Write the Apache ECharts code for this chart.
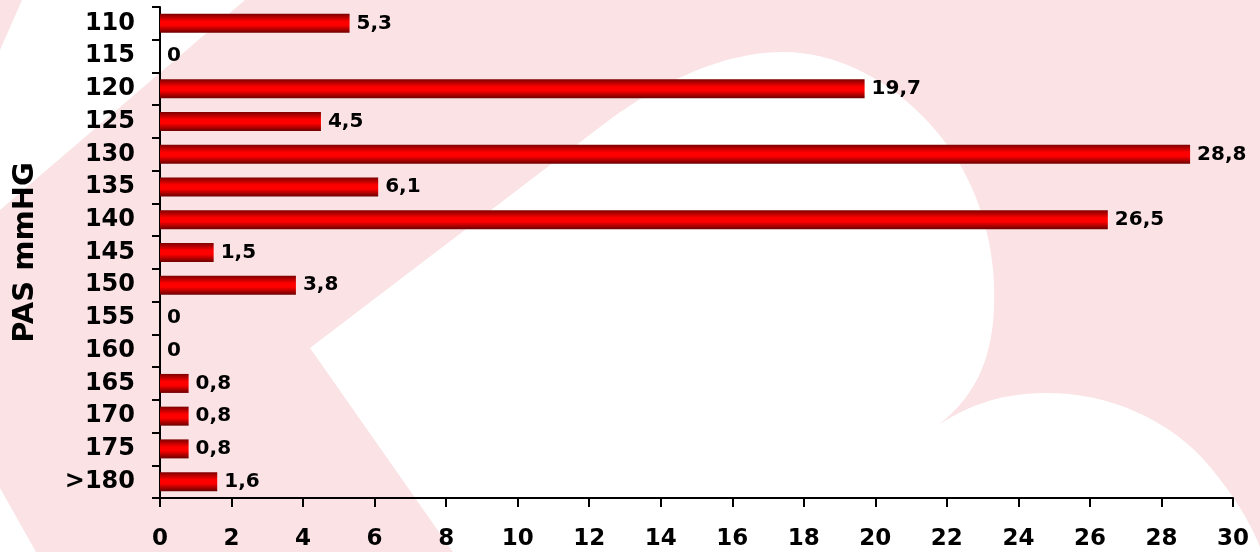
<!DOCTYPE html>
<html>
<head>
<meta charset="utf-8">
<script src="https://cdn.jsdelivr.net/npm/echarts@6/dist/echarts.min.js"></script>
<style>
  html, body { margin: 0; padding: 0; background: #fae2e5; }
  #chart { width: 1260px; height: 552px; }
</style>
</head>
<body>
<div id="chart"></div>
<script>
// Systolic pressure classes (mmHg) and share of patients (%)
const categories = ['110', '115', '120', '125', '130', '135', '140', '145', '150', '155', '160', '165', '170', '175', '>180'];
const values = [5.3, 0, 19.7, 4.5, 28.8, 6.1, 26.5, 1.5, 3.8, 0, 0, 0.8, 0.8, 0.8, 1.6];
const axisTitle = 'PAS mmHG';
const xMin = 0, xMax = 30, xStep = 2;

const chart = echarts.init(document.getElementById('chart'));

const fontMain = '"DejaVu Sans", Verdana, sans-serif';

const barFill = {
  type: 'linear', x: 0, y: 0, x2: 0, y2: 1,
  colorStops: [
    { offset: 0, color: '#7d0000' },
    { offset: 0.4, color: '#ff0000' },
    { offset: 0.6, color: '#ff0000' },
    { offset: 1, color: '#6a0000' }
  ]
};

// Turn a list of line / cubic segments into polygon points for the backdrop shape
function outline(start, segs) {
  const pts = [start];
  let cur = start;
  segs.forEach(s => {
    if (s.length === 1) {
      pts.push(s[0]);
      cur = s[0];
    } else {
      const [c1, c2, end] = s;
      for (let i = 1; i <= 24; i++) {
        const t = i / 24, u = 1 - t;
        pts.push([
          u * u * u * cur[0] + 3 * u * u * t * c1[0] + 3 * u * t * t * c2[0] + t * t * t * end[0],
          u * u * u * cur[1] + 3 * u * u * t * c1[1] + 3 * u * t * t * c2[1] + t * t * t * end[1]
        ]);
      }
      cur = end;
    }
  });
  return pts;
}

const heart = outline([310, 348], [
  [[600, 127]],
  [[650, 88], [718, 52], [783, 52]],
  [[860, 52], [928, 108], [962, 168]],
  [[988, 215], [998, 270], [993, 322]],
  [[988, 372], [968, 402], [937, 426]],
  [[972, 402], [1008, 393], [1047, 393]],
  [[1110, 393], [1168, 420], [1205, 461]],
  [[1230, 490], [1250, 520], [1262, 552]],
  [[453, 552]]
]);

chart.setOption({
  backgroundColor: '#fae2e5',
  animation: false,
  graphic: [
    {
      type: 'polygon', silent: true, z: -10,
      shape: { points: [[22, 0], [245, 0], [0, 210], [0, 50]] },
      style: { fill: '#ffffff' }
    },
    {
      type: 'polygon', silent: true, z: -10,
      shape: { points: [[0, 488], [36, 552], [0, 552]] },
      style: { fill: '#ffffff' }
    },
    {
      type: 'polygon', silent: true, z: -10,
      shape: { points: heart },
      style: { fill: '#ffffff' }
    }
  ],
  grid: { left: 160, right: 27, top: 7, bottom: 54, containLabel: false, outerBoundsMode: 'none' },
  xAxis: {
    type: 'value',
    min: xMin, max: xMax, interval: xStep,
    axisLine: { show: true, lineStyle: { color: '#000', width: 2 } },
    axisTick: { show: true, length: 9, lineStyle: { color: '#000', width: 2 } },
    splitLine: { show: false },
    axisLabel: {
      color: '#000', fontFamily: fontMain, fontWeight: 'bold', fontSize: 23, margin: 30
    }
  },
  yAxis: {
    type: 'category',
    inverse: true,
    data: categories,
    name: axisTitle,
    nameLocation: 'middle',
    nameRotate: 90,
    nameGap: 120,
    nameTextStyle: {
      color: '#000', fontFamily: fontMain, fontWeight: 'bold', fontSize: 29
    },
    axisLine: { show: true, lineStyle: { color: '#000', width: 2 } },
    axisTick: { show: true, length: 8, lineStyle: { color: '#000', width: 2 } },
    axisLabel: {
      color: '#000', fontFamily: fontMain, fontWeight: 'bold', fontSize: 24, margin: 25
    }
  },
  series: [{
    type: 'bar',
    data: values,
    barWidth: 19,
    itemStyle: { color: barFill },
    label: {
      show: true,
      position: 'right',
      distance: 7,
      color: '#000',
      fontFamily: fontMain,
      fontWeight: 'bold',
      fontSize: 20,
      formatter: p => String(p.value).replace('.', ',')
    }
  }]
});
</script>
</body>
</html>
